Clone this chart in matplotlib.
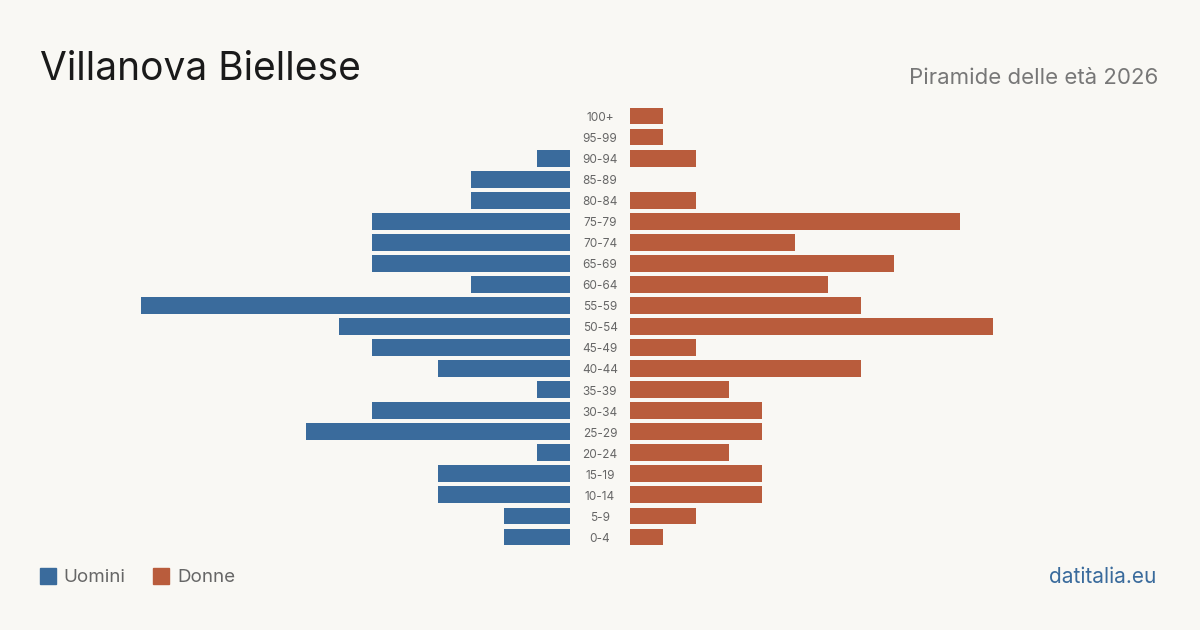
import matplotlib.pyplot as plt
from matplotlib.patches import Rectangle

plt.rcParams['font.family'] = ['Inter', 'DejaVu Sans']

age_groups = ["100+", "95-99", "90-94", "85-89", "80-84", "75-79", "70-74",
              "65-69", "60-64", "55-59", "50-54", "45-49", "40-44", "35-39",
              "30-34", "25-29", "20-24", "15-19", "10-14", "5-9", "0-4"]
uomini = [0, 0, 1, 3, 3, 6, 6, 6, 3, 13, 7, 6, 4, 1, 6, 8, 1, 4, 4, 2, 2]
donne = [1, 1, 2, 0, 2, 10, 5, 8, 6, 7, 11, 2, 7, 3, 4, 4, 3, 4, 4, 2, 1]

BG = "#f9f8f4"
BLUE = "#3a6b9c"
RED = "#b95c3c"

W, H = 1200, 630
fig = plt.figure(figsize=(W / 100, H / 100), dpi=100, facecolor=BG)

unit_px = 33.0
top_px, bot_px = 105.5, 547.5
n = len(age_groups)
ys = list(range(n))

def px_axes(x0, x1):
    return fig.add_axes([x0 / W, 1 - bot_px / H, (x1 - x0) / W, (bot_px - top_px) / H])

ax_m = px_axes(40, 570)
ax_f = px_axes(630, 1160)
for ax in (ax_m, ax_f):
    ax.set_facecolor("none")
    ax.set_ylim(n - 0.5, -0.5)
    ax.axis("off")
ax_m.set_xlim(530 / unit_px, 0)
ax_f.set_xlim(0, 530 / unit_px)

ax_m.barh(ys, uomini, height=0.8, color=BLUE)
ax_f.barh(ys, donne, height=0.8, color=RED)

for y, lab in zip(ys, age_groups):
    ax_f.text(-30 / unit_px, y + 0.09, lab, ha="center", va="center",
              fontsize=8.5, color="#666666", clip_on=False)

fig.text(40 / W, 1 - 69 / H, "Villanova Biellese", fontsize=28, color="#1a1a1a",
         va="center", ha="left")
fig.text(1158 / W, 1 - 78 / H, "Piramide delle età 2026", fontsize=16,
         color="#777777", va="center", ha="right")

fig.patches.append(Rectangle((40 / W, 1 - 584 / H), 16 / W, 16 / H,
                             transform=fig.transFigure, color=BLUE))
fig.text(63 / W, 1 - 577 / H, "Uomini", fontsize=13.5, color="#666666", va="center")
fig.patches.append(Rectangle((153 / W, 1 - 584 / H), 16 / W, 16 / H,
                             transform=fig.transFigure, color=RED))
fig.text(177 / W, 1 - 577 / H, "Donne", fontsize=13.5, color="#666666", va="center")

fig.text(1156 / W, 1 - 577 / H, "datitalia.eu", fontsize=15, color="#3a6b9c",
         va="center", ha="right")

fig.savefig("out.png", dpi=100, facecolor=BG)
